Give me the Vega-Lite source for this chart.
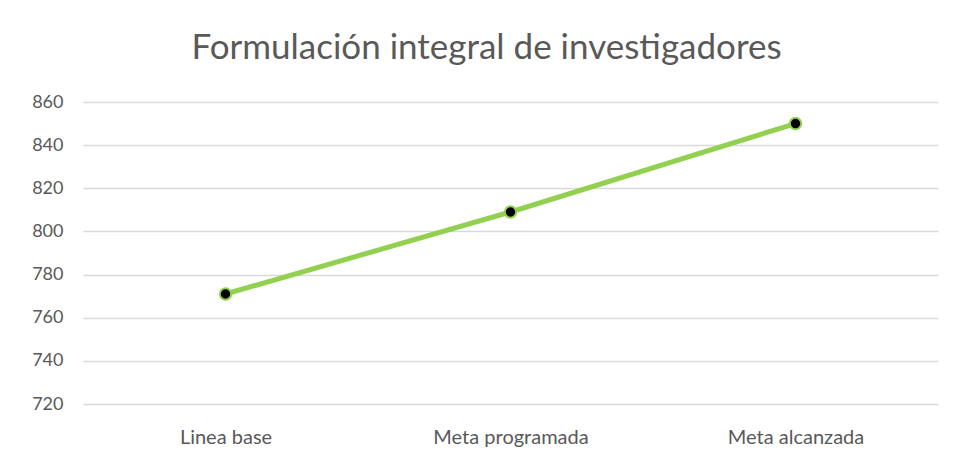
{
  "$schema": "https://vega.github.io/schema/vega-lite/v6.json",
  "autosize": {"type": "none"},
  "width": 855,
  "height": 302,
  "padding": {"left": 83, "top": 102, "right": 16, "bottom": 56},
  "background": "white",
  "title": {
    "text": "Formulación integral de investigadores",
    "anchor": "middle",
    "frame": "group",
    "dx": -24,
    "offset": 27,
    "fontSize": 35,
    "font": "Lato",
    "fontWeight": "normal",
    "color": "#595959"
  },
  "data": {
    "values": [
      {"categoria": "Linea base", "valor": 771},
      {"categoria": "Meta programada", "valor": 809},
      {"categoria": "Meta alcanzada", "valor": 850}
    ]
  },
  "encoding": {
    "x": {
      "field": "categoria",
      "type": "nominal",
      "sort": null,
      "scale": {"paddingInner": 0, "paddingOuter": 0},
      "axis": {
        "title": null,
        "labelAngle": 0,
        "domain": false,
        "ticks": false,
        "grid": false,
        "labelPadding": 23,
        "labelFontSize": 20,
        "labelFont": "Lato",
        "labelColor": "#595959"
      }
    },
    "y": {
      "field": "valor",
      "type": "quantitative",
      "scale": {"domain": [720, 860], "zero": false, "nice": false},
      "axis": {
        "title": null,
        "values": [720, 740, 760, 780, 800, 820, 840, 860],
        "domain": false,
        "ticks": false,
        "gridColor": "#d9d9d9",
        "gridWidth": 1.5,
        "labelPadding": 20,
        "labelFontSize": 18,
        "labelFont": "Lato",
        "labelColor": "#595959"
      }
    }
  },
  "layer": [
    {"mark": {"type": "line", "color": "#92D050", "strokeWidth": 5}},
    {"mark": {"type": "point", "filled": true, "fill": "black", "stroke": "#92D050", "strokeWidth": 2, "size": 130, "opacity": 1}}
  ],
  "config": {"view": {"stroke": null}}
}
